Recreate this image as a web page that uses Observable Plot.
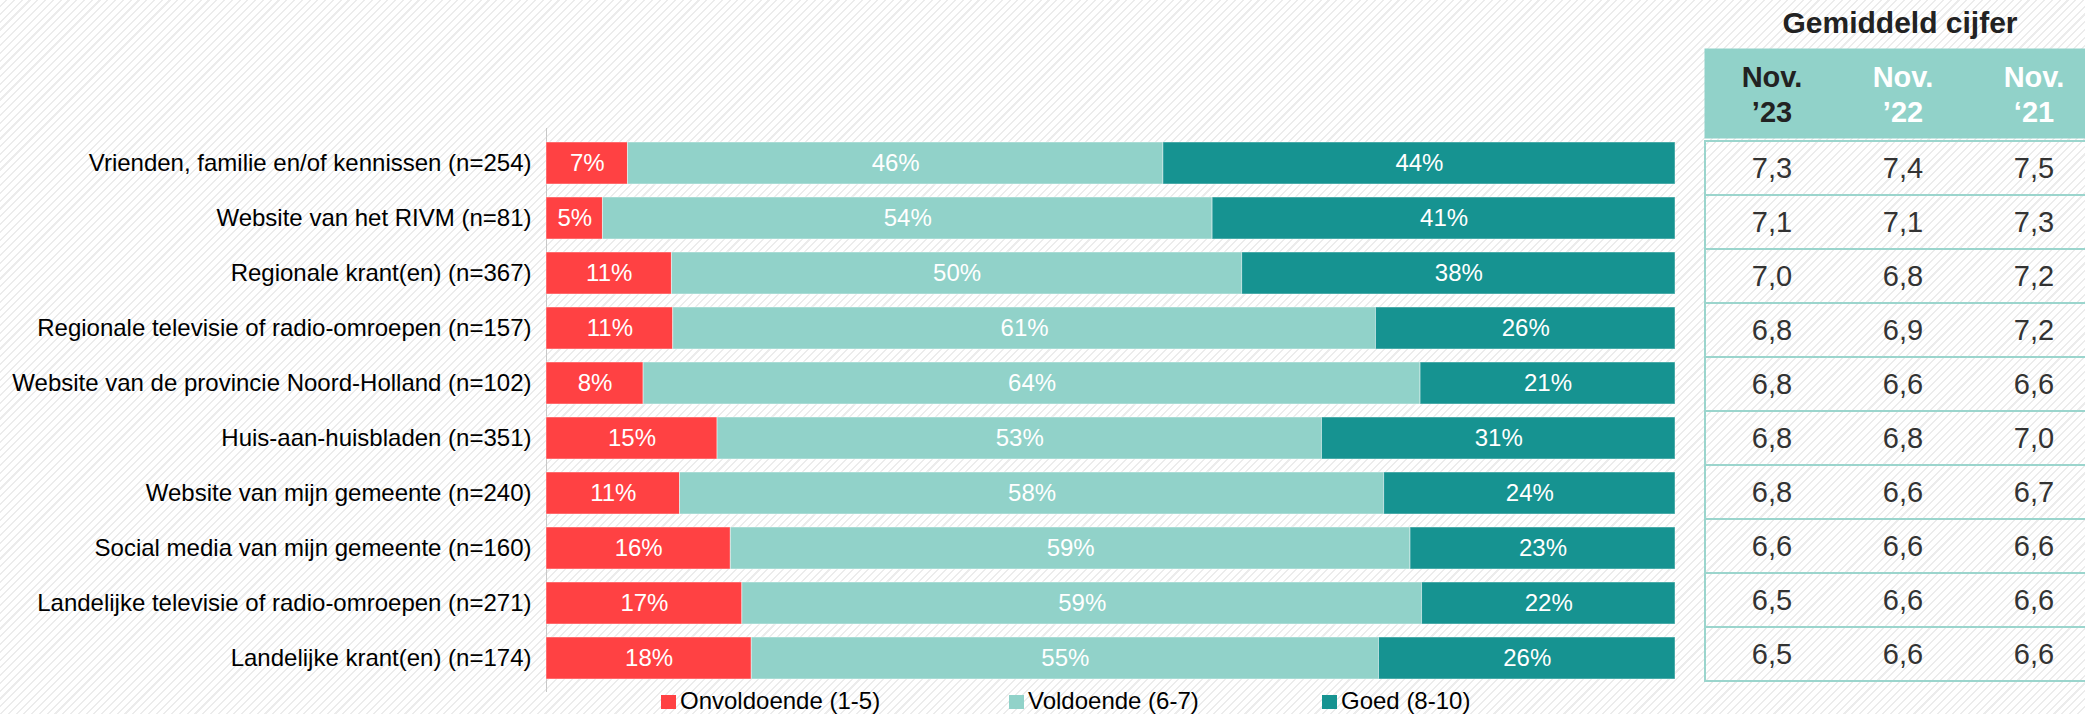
<!DOCTYPE html>
<html>
<head>
<meta charset="utf-8">
<script src="https://cdn.jsdelivr.net/npm/d3@7"></script>
<script src="https://cdn.jsdelivr.net/npm/@observablehq/plot@0.6"></script>
<style>
  html, body { margin: 0; padding: 0; background: #fff; }
  body { width: 2085px; height: 714px; overflow: hidden; }
  #root {
    position: relative; width: 2085px; height: 714px; overflow: hidden;
    font-family: "Liberation Sans", Arial, sans-serif;
    background: repeating-linear-gradient(135deg, #ffffff 0px, #ffffff 4px, #ececec 4px, #ececec 5.5px);
  }
  .abs { position: absolute; }
  #root svg { max-width: none !important; display: block; }
  #title { left: 1750px; top: 8px; width: 300px; text-align: center; font-size: 30px; line-height: 30px; font-weight: bold; color: #222; }
  .lg-sw { position: absolute; width: 15px; height: 14px; top: 695px; }
  .lg-tx { position: absolute; top: 689px; font-size: 24px; line-height: 24px; color: #000; white-space: nowrap; }
</style>
</head>
<body>
<div id="root">
  <div id="bars" class="abs" style="left:0;top:0"></div>
  <div id="title" class="abs">Gemiddeld cijfer</div>
  <div id="thead" class="abs" style="left:1704px;top:48px;width:400px"></div>
  <div id="tbody" class="abs" style="left:1704px;top:137px;width:400px"></div>
  <div id="legend"></div>
</div>
<script>
const categories = [
  "Vrienden, familie en/of kennissen (n=254)",
  "Website van het RIVM (n=81)",
  "Regionale krant(en) (n=367)",
  "Regionale televisie of radio-omroepen (n=157)",
  "Website van de provincie Noord-Holland (n=102)",
  "Huis-aan-huisbladen (n=351)",
  "Website van mijn gemeente (n=240)",
  "Social media van mijn gemeente (n=160)",
  "Landelijke televisie of radio-omroepen (n=271)",
  "Landelijke krant(en) (n=174)"
];
const onvoldoende = [7, 5, 11, 11, 8, 15, 11, 16, 17, 18];
const voldoende   = [46, 54, 50, 61, 64, 53, 58, 59, 59, 55];
const goed        = [44, 41, 38, 26, 21, 31, 24, 23, 22, 26];
const seriesNames  = ["Onvoldoende (1-5)", "Voldoende (6-7)", "Goed (8-10)"];
const seriesColors = ["#FF4143", "#91D2C9", "#169391"];

const columns = ["Nov. ’23", "Nov. ’22", "Nov. ‘21"];
const columnTextColors = ["#222222", "#ffffff", "#ffffff"];
const nov23 = [7.3, 7.1, 7.0, 6.8, 6.8, 6.8, 6.8, 6.6, 6.5, 6.5];
const nov22 = [7.4, 7.1, 6.8, 6.9, 6.6, 6.8, 6.6, 6.6, 6.6, 6.6];
const nov21 = [7.5, 7.3, 7.2, 7.2, 6.6, 7.0, 6.7, 6.6, 6.6, 6.6];

const FONT = "'Liberation Sans', Arial, sans-serif";

// ---- stacked bars ----
const seriesValues = [onvoldoende, voldoende, goed];
const rows = [];
categories.forEach((cat, i) => {
  seriesNames.forEach((s, j) => rows.push({cat, series: s, value: seriesValues[j][i]}));
});

const bars = Plot.plot({
  width: 1690,
  height: 692,
  marginLeft: 546,
  marginRight: 15,
  marginTop: 128,
  marginBottom: 0,
  style: {fontFamily: FONT, fontSize: "24px", color: "#000", background: "transparent", overflow: "visible"},
  x: {domain: [0, 1], axis: null},
  y: {domain: categories, padding: 0.24, label: null},
  color: {domain: seriesNames, range: seriesColors},
  marks: [
    Plot.ruleX([0], {stroke: "#c8c8c8", strokeWidth: 1}),
    Plot.barX(rows, Plot.stackX({x: "value", y: "cat", fill: "series", offset: "normalize",
      stroke: "#ffffff", strokeOpacity: 0.45, strokeWidth: 1})),
    Plot.textX(rows, Plot.stackX({x: "value", y: "cat", z: "series", offset: "normalize",
      text: d => d.value + "%", fill: "#ffffff", fontSize: 24})),
    Plot.axisY({tickSize: 0, tickPadding: 15, label: null, fontSize: 24, fill: "#000"})
  ]
});
document.getElementById("bars").appendChild(bars);

// ---- table header ----
const tableX = () => ({type: "band", domain: columns, range: [1, 396], padding: 0, axis: null});
const head = Plot.plot({
  width: 396,
  height: 90,
  marginLeft: 0, marginRight: 0, marginTop: 0, marginBottom: 0,
  style: {fontFamily: FONT, background: "transparent", overflow: "visible"},
  x: tableX(),
  marks: [
    Plot.frame({fill: "#91D2C9", stroke: "none"}),
    Plot.text(columns, {x: d => d, text: d => d.replace(" ", "\n"), frameAnchor: "middle",
      fill: (d, i) => columnTextColors[i], fontSize: 29, fontWeight: "bold", lineHeight: 1.2})
  ]
});
document.getElementById("thead").appendChild(head);

// ---- table body ----
const fmt = v => d3.format(".1f")(v).replace(".", ",");
const colValues = [nov23, nov22, nov21];
const cells = [];
categories.forEach((cat, i) => columns.forEach((c, j) => cells.push({cat, col: c, v: colValues[j][i]})));

const body = Plot.plot({
  width: 396,
  height: 547,
  marginLeft: 1, marginRight: 0, marginTop: 1, marginBottom: 1,
  style: {fontFamily: FONT, background: "transparent", overflow: "visible"},
  x: tableX(),
  y: {type: "band", domain: categories, padding: 0, axis: null},
  marks: [
    Plot.cell(categories, {y: d => d, fill: "none", stroke: "#9BD5CD", strokeWidth: 2}),
    Plot.text(cells, {x: "col", y: "cat", text: d => fmt(d.v), fill: "#333", fontSize: 29})
  ]
});
document.getElementById("tbody").appendChild(body);

// ---- legend ----
const legendX = [661, 1009, 1322];
const legend = document.getElementById("legend");
seriesNames.forEach((name, i) => {
  const sw = document.createElement("div");
  sw.className = "lg-sw";
  sw.style.left = legendX[i] + "px";
  sw.style.background = seriesColors[i];
  legend.appendChild(sw);
  const tx = document.createElement("div");
  tx.className = "lg-tx";
  tx.style.left = (legendX[i] + 19) + "px";
  tx.textContent = name;
  legend.appendChild(tx);
});
</script>
</body>
</html>
